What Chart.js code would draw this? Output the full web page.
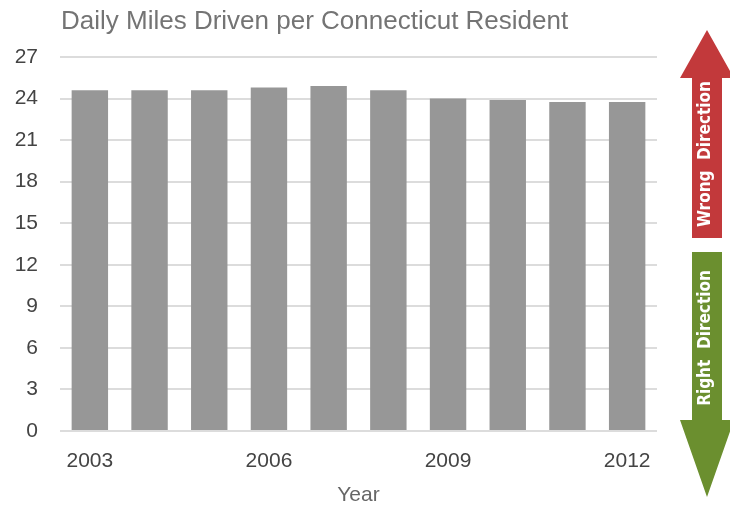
<!DOCTYPE html>
<html>
<head>
<meta charset="utf-8">
<title>Daily Miles Driven per Connecticut Resident</title>
<script src="https://cdn.jsdelivr.net/npm/chart.js@4.4.1/dist/chart.umd.min.js"></script>
<style>
  html, body { margin: 0; padding: 0; background: #fff; }
  #wrap { width: 730px; height: 508px; position: relative; }
</style>
</head>
<body>
<div id="wrap"><canvas id="milesChart"></canvas></div>
<script>
// data
const years = ["2003", "2004", "2005", "2006", "2007", "2008", "2009", "2010", "2011", "2012"]
const dailyMiles = [24.6, 24.6, 24.6, 24.8, 24.9, 24.6, 24.0, 23.9, 23.75, 23.75]
const yTicks = [0, 3, 6, 9, 12, 15, 18, 21, 24, 27]
const chartTitle = "Daily Miles Driven per Connecticut Resident"
const xTitle = "Year"
const upArrowText = "Wrong  Direction"
const downArrowText = "Right  Direction"

const baseFont = "'Liberation Sans', Arial, sans-serif"
const arrowFont = "'Liberation Sans Narrow', 'DejaVu Sans Condensed', sans-serif"

// title drawn at the left edge of the plot area
const titlePlugin = {
  id: "leftTitle",
  afterDraw(chart) {
    const ctx = chart.ctx
    ctx.save()
    ctx.fillStyle = "#747474"
    ctx.font = "26px " + baseFont
    ctx.textBaseline = "middle"
    ctx.textAlign = "left"
    ctx.fillText(chartTitle, chart.chartArea.left + 1, 22)
    ctx.restore()
  },
}

// red / green direction arrows in the right margin
function drawArrow(ctx, cx, tipY, headY, tailY, headHalf, shaftHalf, color) {
  ctx.beginPath()
  ctx.moveTo(cx, tipY)
  ctx.lineTo(cx + headHalf, headY)
  ctx.lineTo(cx + shaftHalf, headY)
  ctx.lineTo(cx + shaftHalf, tailY)
  ctx.lineTo(cx - shaftHalf, tailY)
  ctx.lineTo(cx - shaftHalf, headY)
  ctx.lineTo(cx - headHalf, headY)
  ctx.closePath()
  ctx.fillStyle = color
  ctx.fill()
}

function drawUpright(ctx, text, x, y) {
  ctx.save()
  ctx.translate(x, y)
  ctx.rotate(-Math.PI / 2)
  ctx.fillStyle = "#ffffff"
  ctx.font = "bold 17px " + arrowFont
  ctx.textAlign = "center"
  ctx.textBaseline = "middle"
  ctx.fillText(text, 0, 0)
  ctx.restore()
}

const arrowPlugin = {
  id: "directionArrows",
  afterDraw(chart) {
    const ctx = chart.ctx
    const area = chart.chartArea
    const cx = area.right + 50
    ctx.save()
    drawArrow(ctx, cx, area.top - 27, area.top + 21, area.top + 181, 27, 15, "#c2393b")
    drawArrow(ctx, cx, area.bottom + 66, area.bottom - 11, area.top + 195, 27, 15, "#6b8f2f")
    drawUpright(ctx, upArrowText, cx - 1, area.top + 97)
    drawUpright(ctx, downArrowText, cx - 1, area.top + 281)
    ctx.restore()
  },
}

const ctx = document.getElementById("milesChart").getContext("2d")
new Chart(ctx, {
  type: "bar",
  data: {
    labels: years,
    datasets: [
      {
        label: "Daily miles",
        data: dailyMiles,
        backgroundColor: "#979797",
        borderWidth: 0,
        categoryPercentage: 1,
        barPercentage: 0.61,
      },
    ],
  },
  options: {
    responsive: true,
    maintainAspectRatio: false,
    animation: false,
    layout: { padding: { top: 57, right: 73, left: 0, bottom: 0 } },
    plugins: {
      legend: { display: false },
      tooltip: { enabled: false },
    },
    scales: {
      x: {
        afterFit(scale) {
          scale.height = 77
        },
        grid: { display: false, drawTicks: false },
        border: { display: false },
        ticks: {
          autoSkip: false,
          maxRotation: 0,
          padding: 18,
          color: "#444",
          font: { family: baseFont, size: 21 },
          callback: (v, i) => (i % 3 === 0 ? years[i] : ""),
        },
        title: {
          display: true,
          text: xTitle,
          color: "#666",
          padding: { top: 0, bottom: 0 },
          font: { family: baseFont, size: 21 },
        },
      },
      y: {
        min: yTicks[0],
        max: yTicks[yTicks.length - 1],
        afterFit(scale) {
          scale.width = 60
        },
        grid: { color: "#dcdcdc", lineWidth: 2, drawTicks: false },
        border: { display: false },
        ticks: {
          stepSize: yTicks[1] - yTicks[0],
          padding: 22,
          color: "#444",
          font: { family: baseFont, size: 21 },
        },
      },
    },
  },
  plugins: [titlePlugin, arrowPlugin],
})
</script>
</body>
</html>
